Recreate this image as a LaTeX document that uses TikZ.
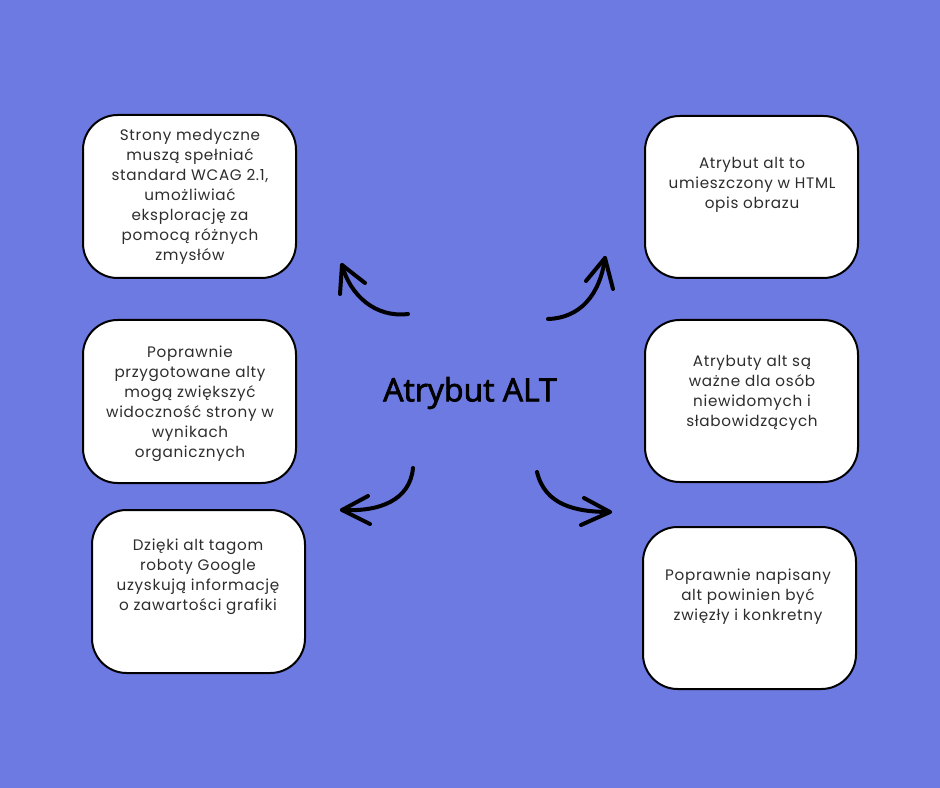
\documentclass[tikz,border=0pt]{standalone}
\usepackage{fontspec}
\setmainfont{Poppins}[LetterSpace=4.5]
\newfontfamily\titlefont{Open Sans}[FakeBold=2.5]
\definecolor{bg}{RGB}{108,122,225}
\definecolor{txt}{RGB}{45,45,45}
\begin{document}
\begin{tikzpicture}[x=0.75pt,y=-0.75pt,
  card/.style={draw=black,line width=1.5pt,fill=white,rounded corners=26pt},
  cardtext/.style={align=center,font=\fontsize{11.4}{15}\selectfont,text=txt,inner sep=0pt},
  curvy/.style={line width=3pt,line cap=round,line join=round}]
\fill[bg] (0,0) rectangle (940,788);
\useasboundingbox (0,0) rectangle (940,788);
% cards
\draw[card] (83,115) rectangle (296,278); \coordinate (c1) at (189.5,196.5);
\draw[card] (645,116) rectangle (858,278); \coordinate (c2) at (751.5,197);
\draw[card] (83,320) rectangle (296,483); \coordinate (c3) at (189.5,401.5);
\draw[card] (645,320) rectangle (858,482); \coordinate (c4) at (751.5,401);
\draw[card] (92,510) rectangle (305,673); \coordinate (c5) at (198.5,591.5);
\draw[card] (643,527) rectangle (856,689); \coordinate (c6) at (749.5,608);
% texts
\node[cardtext] (t1) at (190,197) {Strony medyczne\\muszą spełniać\\standard WCAG 2.1,\\umożliwiać\\eksplorację za\\pomocą różnych\\zmysłów};
\node[cardtext] (t2) at (752,185) {Atrybut alt to\\umieszczony w HTML\\opis obrazu};
\node[cardtext] (t3) at (190,404) {Poprawnie\\przygotowane alty\\mogą zwiększyć\\widoczność strony w\\wynikach\\organicznych};
\node[cardtext] (t4) at (752,393) {Atrybuty alt są\\ważne dla osób\\niewidomych i\\słabowidzących};
\node[cardtext] (t5) at (198,577) {Dzięki alt tagom\\roboty Google\\uzyskują informację\\o zawartości grafiki};
\node[cardtext] (t6) at (748,597) {Poprawnie napisany\\alt powinien być\\zwięzły i konkretny};
% title
\node[font=\titlefont\fontsize{24}{28}\selectfont,text=black] (title) at (470,393) {Atrybut ALT};
% arrows
\coordinate (a1s) at (408,314); \coordinate (a1e) at (342,265);
\coordinate (a2s) at (548,319); \coordinate (a2e) at (605,258);
\coordinate (a3s) at (413,468); \coordinate (a3e) at (342,510);
\coordinate (a4s) at (537,472); \coordinate (a4e) at (610,512);
\draw[curvy] (a1s) .. controls (375,318) and (350,295) .. (a1e);
\draw[curvy] (340,294) -- (a1e) -- (365,283);
\draw[curvy] (a2s) .. controls (580,318) and (600,295) .. (a2e);
\draw[curvy] (586,281) -- (a2e) -- (613,289);
\draw[curvy] (a3s) .. controls (410,500) and (380,512) .. (a3e);
\draw[curvy] (368,496) -- (a3e) -- (370,524);
\draw[curvy] (a4s) .. controls (545,505) and (575,512) .. (a4e);
\draw[curvy] (584,498) -- (a4e) -- (581,525);
\end{tikzpicture}
\end{document}
